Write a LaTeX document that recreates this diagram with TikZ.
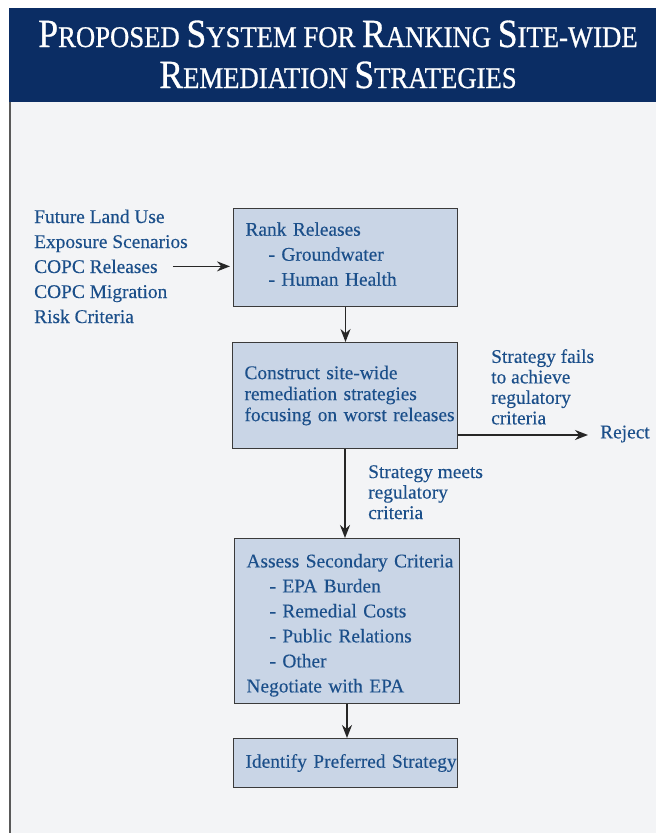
\documentclass[tikz,border=0pt]{standalone}
\usepackage{fontspec}
\usepackage{graphicx}
\setmainfont{Liberation Serif}[FakeBold=0.25]
\newfontfamily\titlefont{Liberation Serif}[FakeBold=0.8]
\usetikzlibrary{arrows.meta}
\definecolor{navy}{HTML}{0B2D64}
\definecolor{txtblue}{HTML}{1B4F8A}
\definecolor{boxfill}{HTML}{C9D5E6}
\definecolor{panel}{HTML}{F3F4F6}
\definecolor{edge}{HTML}{3A3A3A}
\newcommand\capsc[2]{{\fontsize{40}{40}\selectfont#1}{\fontsize{30}{30}\selectfont#2}}
\tikzset{
  lbl/.style={text=txtblue,font=\fontsize{19.4}{25}\selectfont,inner sep=0pt},
  stepbox/.style={lbl,draw=edge,line width=1pt,fill=boxfill,anchor=north west,
    align=left,inner xsep=12pt},
  arr/.style={-{Stealth[length=13pt,width=10pt]},line width=1.6pt,draw=black!85}
}
\begin{document}
\begin{tikzpicture}[x=1pt,y=-1pt]
  \useasboundingbox (0,0) rectangle (656,833);
  \fill[navy] (9,8) rectangle (656,102);
  \fill[panel] (10,102) rectangle (656,833);
  \draw[black!65,line width=2pt] (10,102) -- (10,833);
  \node[text=white,font=\titlefont\fontsize{30}{30}\selectfont,anchor=base] (title1) at (338,47)
    {\scalebox{0.89}[1]{\capsc{P}{ROPOSED} \capsc{S}{YSTEM} FOR \capsc{R}{ANKING} \capsc{S}{ITE-WIDE}}};
  \node[text=white,font=\titlefont\fontsize{30}{30}\selectfont,anchor=base] (title2) at (338,88)
    {\scalebox{0.89}[1]{\capsc{R}{EMEDIATION} \capsc{S}{TRATEGIES}}};
  \foreach \t [count=\i] in {Future Land Use,Exposure Scenarios,COPC Releases,COPC Migration,Risk Criteria}
    \node[lbl,anchor=base west] (in\i) at (34,198+25*\i) {\t};
  \node[stepbox,text width=200pt,minimum height=98pt] (rank) at (233,208)
    {Rank Releases\\ \hspace*{23pt}- Groundwater\\ \hspace*{23pt}- Human Health\rule[-7pt]{0pt}{7pt}};
  \node[stepbox,text width=201pt,minimum height=106pt,font=\fontsize{19.4}{21}\selectfont] (construct) at (232,342)
    {Construct site-wide\\ remediation strategies\\ \mbox{focusing on worst releases}};
  \node[stepbox,text width=201pt,minimum height=165pt] (assess) at (234,538)
    {\rule{0pt}{22pt}\mbox{Assess Secondary Criteria}\\ \hspace*{23pt}- EPA Burden\\ \hspace*{23pt}- Remedial Costs\\
     \hspace*{23pt}- Public Relations\\ \hspace*{23pt}- Other\\ Negotiate with EPA};
  \node[stepbox,text width=200pt,minimum height=49pt] (prefer) at (233,738) {\mbox{Identify Preferred Strategy}};
  \node[lbl,anchor=west] (reject) at (600,434) {Reject};
  \node[lbl,anchor=north west,align=left,font=\fontsize{19.4}{20.5}\selectfont] (fails) at (491,349)
    {Strategy fails\\ to achieve\\ regulatory\\ criteria};
  \node[lbl,anchor=north west,align=left,font=\fontsize{19.4}{20.5}\selectfont] (meets) at (368,465)
    {Strategy meets\\ regulatory\\ criteria};
  \draw[arr] ([xshift=15pt]in3.east) -- ([xshift=-3pt]in3.east -| rank.west);
  \draw[arr] (rank.south) -- (rank.south |- construct.north);
  \draw[arr] (construct.south) -- (construct.south |- assess.north);
  \draw[arr] (assess.south) -- (assess.south |- prefer.north);
  \draw[arr] ([yshift=14pt]construct.south east) -- ([xshift=-12pt,yshift=14pt]construct.south east -| reject.west);
\end{tikzpicture}
\end{document}
